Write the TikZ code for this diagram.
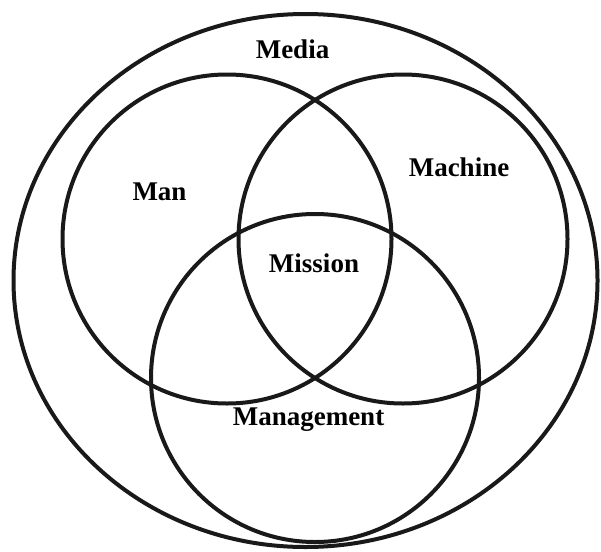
\documentclass[tikz,border=0pt]{standalone}
\usepackage{fontspec}
\setmainfont{Liberation Serif}
\usetikzlibrary{positioning}

\begin{document}
\begin{tikzpicture}[x=1pt, y=-1pt,
    ring/.style={line width=4pt, black!90},
    lbl/.style={font=\bfseries\fontsize{27}{29}\selectfont, inner sep=0pt, anchor=base}]
  \useasboundingbox (0,0) rectangle (601,551);
  % outer ring and the three circles
  \draw[ring] (305.5,280.5) ellipse (292 and 266.5);
  \coordinate (cman) at (227,239);
  \coordinate (cmachine) at (403,239);
  \coordinate (cmgmt) at (315,378);
  \draw[ring] (cman) circle (164.5);
  \draw[ring] (cmachine) circle (164.5);
  \draw[ring] (cmgmt) circle (164);
  % labels
  \node[lbl] (media) at (292.5,58) {Media};
  \node[lbl] (man) at (159.5,200) {Man};
  \node[lbl] (machine) at (459,176) {Machine};
  \node[lbl] (mission) at (314,272) {Mission};
  \node[lbl] (management) at (308.5,425) {Management};
\end{tikzpicture}
\end{document}
